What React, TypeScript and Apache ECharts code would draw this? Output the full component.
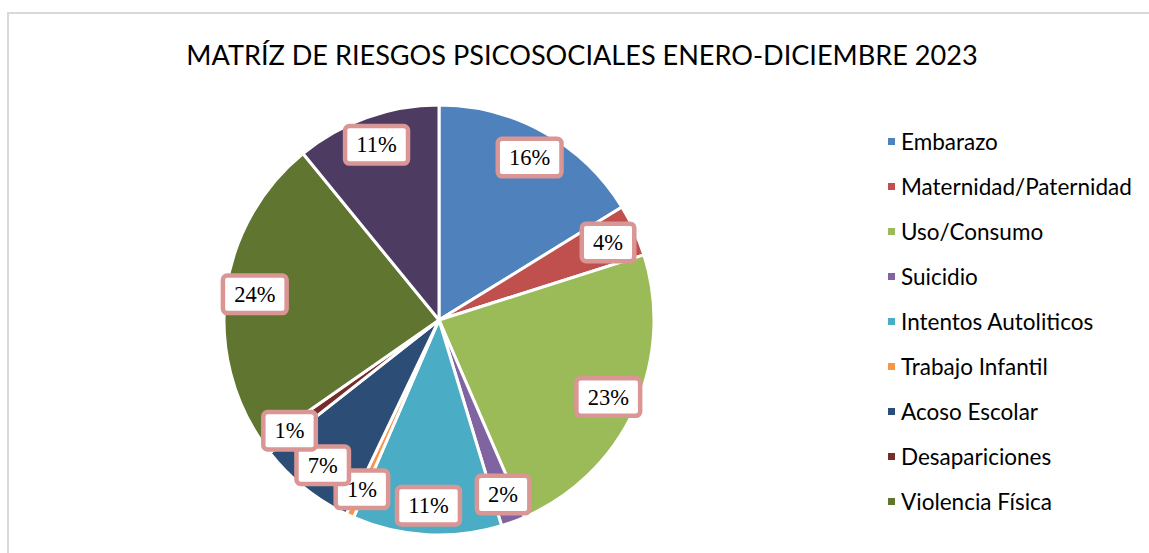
import React, { useEffect, useRef } from "react";
import * as echarts from "echarts";

const TITLE = "MATRÍZ DE RIESGOS PSICOSOCIALES ENERO-DICIEMBRE 2023";

const categories = [
  "Embarazo",
  "Maternidad/Paternidad",
  "Uso/Consumo",
  "Suicidio",
  "Intentos Autoliticos",
  "Trabajo Infantil",
  "Acoso Escolar",
  "Desapariciones",
  "Violencia Física",
  "Violencia Sexual",
];

const values = [16.2, 3.9, 23.4, 1.8, 11.2, 0.6, 7.3, 0.9, 23.8, 10.9];

const colors = [
  "#4F81BD",
  "#C0504D",
  "#9BBB59",
  "#8064A2",
  "#4BACC6",
  "#F79646",
  "#2C4D75",
  "#772C2A",
  "#5F7530",
  "#4D3B62",
];

// legend shows only the first nine entries (as in the reference)
const legendNames = categories.slice(0, 9);

export default function App() {
  const ref = useRef<HTMLDivElement>(null);

  useEffect(() => {
    if (!ref.current) return;
    const chart = echarts.init(ref.current, undefined, { renderer: "svg" });
    const total = values.reduce((a, b) => a + b, 0);
    const data = categories.map((name, i) => ({
      name,
      value: values[i],
      itemStyle: { color: colors[i] },
    }));
    const labelData = categories.map((name, i) => ({
      name,
      value: values[i],
    }));

    chart.setOption({
      animation: false,
      backgroundColor: "#ffffff",
      title: {
        text: TITLE,
        left: 577,
        textAlign: "center",
        top: 36,
        textStyle: {
          fontFamily: "Lato",
          fontWeight: "normal",
          fontSize: 27.1,
          color: "#000000",
        },
      },
      graphic: [
        {
          type: "rect",
          shape: { x: 8, y: 13, width: 1160, height: 560 },
          style: { fill: "none", stroke: "#d9d9d9", lineWidth: 2 },
          silent: true,
          z: -10,
        },
      ],
      legend: {
        orient: "vertical",
        left: 881,
        top: 125,
        data: legendNames,
        icon: "rect",
        itemWidth: 9,
        itemHeight: 9,
        itemGap: 22,
        selectedMode: false,
        textStyle: {
          fontFamily: "Lato",
          fontSize: 22.5,
          lineHeight: 23,
          color: "#000000",
          padding: [0, 0, 0, 0],
        },
      },
      series: [
        {
          type: "pie",
          center: [439, 320],
          radius: [0, 215],
          startAngle: 90,
          clockwise: true,
          data,
          label: { show: false },
          labelLine: { show: false },
          itemStyle: { borderColor: "#ffffff", borderWidth: 3 },
          emphasis: { disabled: true },
          silent: true,
        },
        {
          type: "pie",
          center: [439, 320],
          radius: [151, 215],
          startAngle: 90,
          clockwise: true,
          data: labelData,
          avoidLabelOverlap: false,
          minShowLabelAngle: 0,
          labelLayout: { hideOverlap: false },
          itemStyle: { color: "rgba(0,0,0,0)", borderWidth: 0 },
          labelLine: { show: false },
          emphasis: { disabled: true },
          silent: true,
          label: {
            show: true,
            position: "inside",
            rotate: 0,
            formatter: (p: any) => `${Math.round((p.value / total) * 100)}%`,
            fontFamily: "Liberation Serif",
            fontSize: 22.5,
            color: "#000000",
            backgroundColor: "#ffffff",
            borderColor: "#D99694",
            borderWidth: 4.5,
            borderRadius: 2,
            padding: [6, 9, 4, 9],
          },
        },
      ],
    });

    return () => chart.dispose();
  }, []);

  return (
    <div
      ref={ref}
      style={{ position: "fixed", left: 0, top: 0, width: 1149, height: 553 }}
    />
  );
}
